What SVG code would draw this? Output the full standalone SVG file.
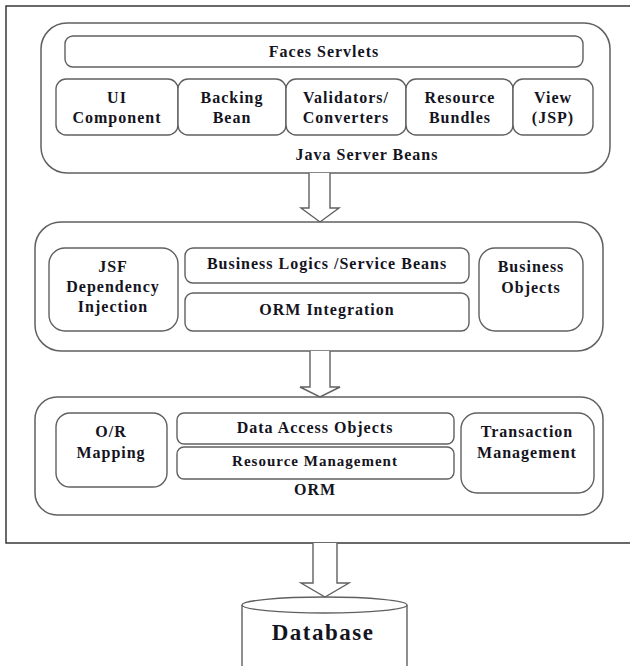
<svg xmlns="http://www.w3.org/2000/svg" width="630" height="666" viewBox="0 0 630 666">
  <style>
    .frame { fill: none; stroke: #2a2a2a; stroke-width: 1.4; }
    .layer { fill: #ffffff; stroke: #606060; stroke-width: 1.5; }
    .box { fill: #ffffff; stroke: #606060; stroke-width: 1.4; }
    .arrow { fill: #ffffff; stroke: #606060; stroke-width: 1.4; stroke-linejoin: miter; }
    text { font-weight: bold; font-size: 16px; letter-spacing: 1px; fill: #14141e; text-anchor: middle; }
    .db { font-size: 23px; letter-spacing: 1.5px; }
  </style>
  <rect width="630" height="666" fill="#ffffff"/>

  <g font-family="Liberation Serif, DejaVu Serif, serif">
  <!-- application boundary -->
  <rect class="frame" x="6" y="6" width="630" height="537"/>

  <!-- presentation layer -->
  <g id="java-server-beans">
    <rect class="layer" x="41" y="23" width="569" height="150" rx="26"/>
    <text x="367" y="160">Java Server Beans</text>
  </g>
  <g id="faces-servlets">
    <rect class="box" x="65" y="36" width="518" height="31" rx="8"/>
    <text x="324" y="57">Faces Servlets</text>
  </g>
  <g id="ui-component">
    <rect class="box" x="56" y="79" width="122" height="56" rx="10"/>
    <text x="117" y="103">UI</text>
    <text x="117" y="123">Component</text>
  </g>
  <g id="backing-bean">
    <rect class="box" x="178" y="79" width="108" height="56" rx="10"/>
    <text x="232" y="103">Backing</text>
    <text x="232" y="123">Bean</text>
  </g>
  <g id="validators-converters">
    <rect class="box" x="286" y="79" width="120" height="56" rx="10"/>
    <text x="346" y="103">Validators/</text>
    <text x="346" y="123">Converters</text>
  </g>
  <g id="resource-bundles">
    <rect class="box" x="406" y="79" width="107" height="56" rx="10"/>
    <text x="460" y="103">Resource</text>
    <text x="460" y="123">Bundles</text>
  </g>
  <g id="view-jsp">
    <rect class="box" x="513" y="79" width="80" height="56" rx="10"/>
    <text x="553" y="103">View</text>
    <text x="553" y="123">(JSP)</text>
  </g>

  <!-- business layer -->
  <g id="business-layer">
    <rect class="layer" x="35" y="222" width="568" height="129" rx="26"/>
  </g>
  <g id="jsf-dependency-injection">
    <rect class="box" x="49" y="248" width="129" height="83" rx="16"/>
    <text x="113" y="272">JSF</text>
    <text x="113" y="292">Dependency</text>
    <text x="113" y="312">Injection</text>
  </g>
  <g id="business-logics">
    <rect class="box" x="185" y="248" width="284" height="35" rx="8"/>
    <text x="327" y="269">Business Logics /Service Beans</text>
  </g>
  <g id="orm-integration">
    <rect class="box" x="185" y="293" width="284" height="38" rx="8"/>
    <text x="327" y="315">ORM Integration</text>
  </g>
  <g id="business-objects">
    <rect class="box" x="479" y="248" width="104" height="83" rx="16"/>
    <text x="531" y="272">Business</text>
    <text x="531" y="293">Objects</text>
  </g>

  <!-- persistence layer -->
  <g id="orm">
    <rect class="layer" x="35" y="397" width="568" height="118" rx="22"/>
    <text x="315" y="495">ORM</text>
  </g>
  <g id="or-mapping">
    <rect class="box" x="56" y="413" width="111" height="74" rx="14"/>
    <text x="111" y="437">O/R</text>
    <text x="111" y="458">Mapping</text>
  </g>
  <g id="data-access-objects">
    <rect class="box" x="177" y="413" width="277" height="31" rx="7"/>
    <text x="315" y="433">Data Access Objects</text>
  </g>
  <g id="resource-management">
    <rect class="box" x="177" y="447" width="277" height="32" rx="7"/>
    <text x="315" y="466" style="font-size:15px">Resource Management</text>
  </g>
  <g id="transaction-management">
    <rect class="box" x="461" y="413" width="133" height="80" rx="16"/>
    <text x="527" y="437">Transaction</text>
    <text x="527" y="458">Management</text>
  </g>

  <!-- database -->
  <g id="database">
    <path class="box" d="M242 605 L242 672 L407 672 L407 605"/>
    <ellipse class="box" cx="324.5" cy="605" rx="82.5" ry="8"/>
    <text class="db" x="323" y="640">Database</text>
  </g>
  </g>

  <!-- block arrows between layers -->
  <g id="connectors">
    <path class="arrow" d="M309 173 L309 208 L301 208 L320 222 L339 208 L330 208 L330 173"/>
    <path class="arrow" d="M310 351 L310 387 L300 387 L320 397 L340 387 L330 387 L330 351"/>
    <path class="arrow" d="M313 543 L313 583 L301 583 L325 597 L349 583 L337 583 L337 543"/>
  </g>
</svg>
